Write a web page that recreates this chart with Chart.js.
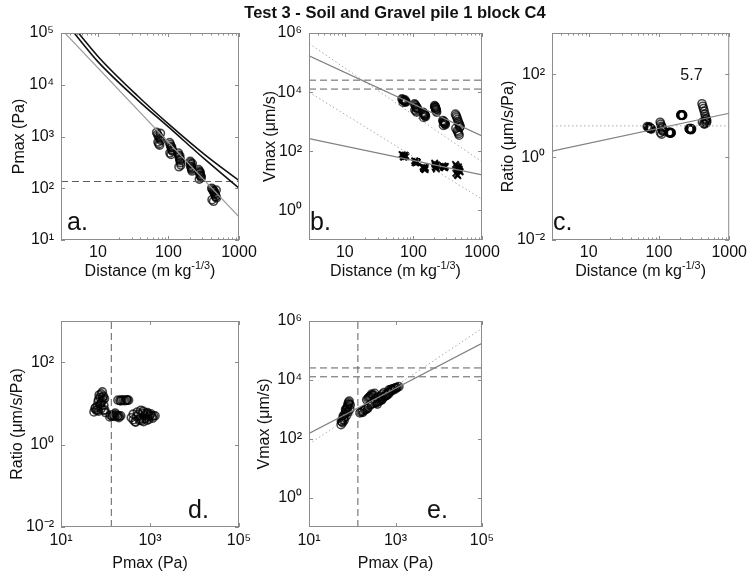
<!DOCTYPE html>
<html>
<head>
<meta charset="utf-8">
<script src="https://cdn.jsdelivr.net/npm/chart.js@4.4.0/dist/chart.umd.min.js"></script>
<style>
  body{margin:0;background:#fff;}
  #wrap{position:relative;width:750px;height:571px;}
  #wrap canvas{position:absolute;left:0;top:0;}
</style>
</head>
<body>
<div id="wrap">
  <canvas id="pa" width="750" height="571"></canvas>
  <canvas id="pb" width="750" height="571"></canvas>
  <canvas id="pc" width="750" height="571"></canvas>
  <canvas id="pd" width="750" height="571"></canvas>
  <canvas id="pe" width="750" height="571"></canvas>
</div>
<script>
// ---- axes / ticks
const distRange = [3, 1000];
const distTicks = [10, 100, 1000];
const pmaxRangeA = [10, 1e5];
const pmaxTicksA = [10, 100, 1000, 1e4, 1e5];
const vmaxRange = [0.1, 1e6];
const vmaxTicks = [1, 100, 1e4, 1e6];
const ratioRange = [0.01, 1000];
const ratioTicks = [0.01, 1, 100];
const pmaxRangeDE = [10, 1e5];
const pmaxTicksDE = [10, 1000, 1e5];

// ---- limits
const pThresh = 135;            // Pa
const vLimits = [25400, 12700]; // um/s
const ratioMean = 5.7;

// ---- scatter data, panels a-c share the scaled distances
const dist = [
  68,70,72,74,76,78,71,73,75,77,
  104,106,108,110,112,114,105,109,111,113,
  138,140,142,144,146,148,150,141,145,147,
  204,206,208,210,212,214,216,218,207,213,
  268,272,276,280,284,288,292,274,282,286,
  410,420,430,440,450,460,470,480,415,435,445,455,465,475
];
const pmaxA = [
  1200,1100,1020,950,900,840,780,720,680,1150,
  760,700,650,600,560,520,480,450,620,540,
  480,440,400,370,340,310,280,260,420,360,
  330,310,290,270,250,230,215,300,260,240,
  230,215,200,190,180,170,160,150,205,175,
  100,95,90,85,80,75,70,65,60,56,88,78,68,92
];
const vmaxB = [
  5900,5600,5300,5000,4800,4600,4500,5200,5500,4900,
  4000,3700,3400,3100,2900,2700,2500,2300,2100,3000,
  2100,2000,1900,1800,1700,1600,1500,1400,1850,1650,
  3500,3300,3100,2900,2700,2500,2300,2100,3000,2600,
  1100,1050,1000,950,900,850,800,750,980,880,
  1800,1600,1400,1200,1000,900,800,700,600,500,450,400,350,650
];
const vmaxLowB = [
  78,75,72,70,68,66,64,63,74,70,
  48,46,45,44,43,42,41,40,45,43,
  30,28,27,26,25,24,28,26,27,25,
  40,37,34,31,29,27,25,35,30,28,
  32,31,30,29,28,30,31,29,30,28,
  36,33,30,28,26,24,22,20,18,16,15,30,25,21
];
const ratioC = [
  5.5,5.3,5.1,5.0,4.9,4.8,5.2,5.4,5.0,4.9,
  7.0,6.3,5.6,5.0,4.6,4.2,3.9,3.6,5.3,4.4,
  4.0,3.9,3.8,3.9,4.0,3.8,3.9,4.0,3.9,3.8,
  10.5,10.2,10.4,10.6,10.3,10.4,10.5,10.2,10.4,10.3,
  4.9,4.8,4.7,4.8,4.9,4.6,4.8,4.7,4.9,4.8,
  19.6,17,15,13,11,9.5,8.5,7.5,7,6.5,6.3,7.2,8,6.8
];
const pmaxD = [
  85,80,90,75,70,88,82,78,95,72,60,65,55,70,80,90,100,75,62,58,68,86,92,66,96,
  190,210,230,250,270,290,310,330,220,300,
  130,145,160,175,190,205,220,150,185,140,165,200,125,
  380,420,460,500,550,600,650,700,750,800,850,900,950,1000,1100,1200,480,620,720,880,
  420,520,580,680,760,820,940,1050,1150,1300
];
const ratioD = [
  19,17,15,14,12.5,12,11,10,13,16,8,7,6.2,6.5,7.5,6.8,6,9,6.8,7.5,11,14,9,8.5,7,
  12,11.8,12.2,12,11.6,12.1,11.9,12,11.5,12.3,
  5.2,5.0,4.8,5.3,5.1,4.9,5.0,5.4,4.8,4.9,5.8,4.5,4.7,
  4.5,4.0,3.6,4.8,5.5,4.2,3.8,6.5,5.0,4.4,3.9,5.5,4.8,5.2,4.9,5.0,3.5,6.8,3.6,6.0,
  5.5,6.2,3.9,5.8,4.2,5.8,4.1,5.6,4.4,5.0
];
const pmaxE = [
  55,58,60,62,65,68,70,72,75,78,80,82,85,65,70,75,80,88,90,60,70,78,85,62,56,
  150,160,170,180,190,200,210,220,230,175,
  215,230,240,250,260,270,290,310,330,280,
  260,280,310,340,370,400,420,440,480,360,
  450,480,520,560,600,620,650,700,760,540,
  700,750,800,850,900,950,1000,1050,1100,1200,
  600,680,820,900,1000,350,400,450,500,380
];
const vmaxE = [
  300,380,450,520,600,700,800,950,1100,1300,1500,1700,1900,420,550,650,800,1000,1400,350,1000,1200,1500,600,400,
  750,800,850,880,950,980,1000,1050,1100,780,
  2100,2300,2500,2600,2700,2900,3000,3100,3500,3300,
  1400,1500,1600,1700,1800,1850,1900,2000,2100,1650,
  2300,2100,2500,2700,2900,3000,3100,3400,4000,3700,
  4500,4600,4800,4900,5000,5200,5300,5500,5600,5900,
  3300,3700,4300,4600,4900,2400,2600,2800,3300,1500
];

// ---- fitted / model lines (end points)
const fitAx = [3, 1000],        fitAy = [1.2e5, 28];
const curveHiX = [5.3, 10.5, 37, 100, 330, 1000], curveHiY = [1e5, 3.3e4, 6000, 1750, 440, 140];
const curveLoX = [4.6, 10, 37, 100, 330, 1000],   curveLoY = [1e5, 2.8e4, 5000, 1530, 360, 100];
const fitBx = [3, 1000];
const fitBhiY = [1.7e5, 330], dotBhiY = [4.4e5, 44];
const fitBloY = [270, 16],    dotBloY = [1.0e4, 2.4];
const fitCx = [3, 1000], fitCy = [1.4, 11.5];
const fitEx = [10, 1e5], fitEy = [150, 1.75e5], dotEy = [66, 5.6e5];

// ---- layout
const W = 750, H = 571, YW = 55, XH = 30;
const FONT = '"Liberation Sans", Arial, Helvetica, sans-serif';
const INK = '#111';
const SUP = {'0':'⁰','1':'¹','2':'²','3':'³','4':'⁴','5':'⁵','6':'⁶','7':'⁷','8':'⁸','9':'⁹','-':'⁻'};
const pow10 = v => '10' + String(Math.round(Math.log10(v))).split('').map(c=>SUP[c]).join('');

const pts = (xs, ys) => xs.map((x,i)=>({x, y: ys[i]}));
const circles = (xs, ys) => ({data: pts(xs,ys), showLine:false, pointStyle:'circle', pointRadius:4,
  pointBorderWidth:1.6, borderColor:'rgba(0,0,0,0.72)', backgroundColor:'rgba(0,0,0,0)'});
const crosses = (xs, ys) => ({data: pts(xs,ys), showLine:false, pointStyle:'crossRot', pointRadius:4.5,
  pointBorderWidth:1.8, borderColor:'rgba(0,0,0,0.9)', backgroundColor:'rgba(0,0,0,0)'});
const line = (xs, ys, color, width, dash, smooth) => ({data: pts(xs,ys), showLine:true, pointRadius:0,
  borderColor:color, borderWidth:width, borderDash:dash||[], fill:false,
  cubicInterpolationMode: smooth ? 'monotone' : 'default'});
const hline = (range, v) => line(range, [v, v], '#5f5f5f', 1, [7,4]);
const vline = (range, v) => line([v, v], range, '#5f5f5f', 1, [7,4]);

function minorTicks(range){
  const out = [];
  for(let d = 1; d < range[1]; d *= 10)
    for(let k = 2; k <= 9; k++){ const v = k*d; if(v > range[0] && v < range[1]) out.push(v); }
  return out;
}

function richText(ctx, parts, cx, cy, size){
  let w = 0;
  parts.forEach(p=>{ ctx.font = (p.sup ? size*0.68 : size) + 'px ' + FONT; p.w = ctx.measureText(p.t).width; w += p.w; });
  let x = cx - w/2;
  ctx.textAlign = 'left'; ctx.textBaseline = 'middle';
  parts.forEach(p=>{
    ctx.font = (p.sup ? size*0.68 : size) + 'px ' + FONT;
    ctx.fillText(p.t, x, p.sup ? cy - size*0.38 : cy);
    x += p.w;
  });
}

const framePlugin = {
  id: 'frame',
  afterDatasetsDraw(chart, args, o){
    const {ctx, chartArea:a, scales:{x, y}} = chart;
    ctx.save();
    ctx.strokeStyle = '#8c8c8c'; ctx.lineWidth = 1;
    ctx.beginPath();
    (o.xMinor || []).forEach(v=>{
      const px = Math.round(x.getPixelForValue(v)) + 0.5;
      ctx.moveTo(px, a.bottom); ctx.lineTo(px, a.bottom - 2.5);
      ctx.moveTo(px, a.top); ctx.lineTo(px, a.top + 2.5);
    });
    x.ticks.forEach(t=>{
      const px = Math.round(x.getPixelForValue(t.value)) + 0.5;
      ctx.moveTo(px, a.bottom); ctx.lineTo(px, a.bottom - 4);
      ctx.moveTo(px, a.top); ctx.lineTo(px, a.top + 4);
    });
    y.ticks.forEach(t=>{
      const py = Math.round(y.getPixelForValue(t.value)) + 0.5;
      ctx.moveTo(a.left, py); ctx.lineTo(a.left + 4, py);
      ctx.moveTo(a.right, py); ctx.lineTo(a.right - 4, py);
    });
    ctx.stroke();
    // white patch behind the panel letter
    ctx.fillStyle = '#fff';
    ctx.fillRect(...o.patch);
    ctx.strokeRect(a.left + 0.5, a.top + 0.5, a.width - 1, a.height - 1);
    // panel letter
    ctx.fillStyle = INK;
    ctx.font = '25px ' + FONT; ctx.textAlign = 'left'; ctx.textBaseline = 'alphabetic';
    ctx.fillText(o.letter[0], o.letter[1], o.letter[2]);
    // axis titles
    ctx.save();
    ctx.translate(o.yTitle[1], (a.top + a.bottom)/2);
    ctx.rotate(-Math.PI/2);
    ctx.font = '16px ' + FONT; ctx.textAlign = 'center'; ctx.textBaseline = 'middle';
    ctx.fillText(o.yTitle[0], 0, 0);
    ctx.restore();
    richText(ctx, o.xTitle, (a.left + a.right)/2, o.xTitleY, 16);
    (o.notes || []).forEach(n=>{
      ctx.font = n.font; ctx.textAlign = 'center'; ctx.textBaseline = 'middle';
      const px = n.data ? x.getPixelForValue(n.x) : n.x;
      const py = n.data ? y.getPixelForValue(n.y) : n.y;
      ctx.fillText(n.t, px, py);
    });
    ctx.restore();
  }
};

function axis(range, ticks, fmt, isX, pad){
  return {
    type:'logarithmic', min:range[0], max:range[1],
    grid:{display:false, drawTicks:false}, border:{display:false},
    afterBuildTicks: s => { s.ticks = ticks.map(v=>({value:v})); },
    afterFit: s => { if(isX) s.height = XH; else s.width = YW; },
    ticks:{callback: fmt, padding: pad, color: INK, autoSkip:false, maxRotation:0,
      font:{family: FONT, size: 16}}
  };
}

function panel(id, box, xAxis, yAxis, datasets, deco){
  return new Chart(document.getElementById(id), {
    type:'scatter',
    data:{datasets},
    options:{
      responsive:false, animation:false, events:[],
      layout:{autoPadding:false, padding:{left: box[0]-YW, top: box[1], right: W-box[2], bottom: H-box[3]-XH}},
      plugins:{legend:{display:false}, tooltip:{enabled:false}, frame: deco},
      scales:{x: xAxis, y: yAxis}
    },
    plugins:[framePlugin]
  });
}

const distFmt = v => String(v);
const distTitle = [{t:'Distance (m kg'}, {t:'-1/3', sup:true}, {t:')'}];
const distMinor = minorTicks(distRange);

// a. Pmax vs distance
panel('pa', [61, 33, 239, 240],
  axis(distRange, distTicks, distFmt, true, 3),
  axis(pmaxRangeA, pmaxTicksA, pow10, false, 7),
  [
    line(curveHiX, curveHiY, '#111', 1.6, null, true),
    line(curveLoX, curveLoY, '#111', 1.6, null, true),
    line(fitAx, fitAy, '#9a9a9a', 1.2),
    hline(distRange, pThresh),
    circles(dist, pmaxA)
  ],
  {letter:['a.', 67, 230], patch:[62, 196, 55, 43], yTitle:['Pmax (Pa)', 20],
   xTitle: distTitle, xTitleY: 272, xMinor: distMinor});

// b. Vmax vs distance
panel('pb', [309, 33, 482, 240],
  axis(distRange, distTicks, distFmt, true, 3),
  axis(vmaxRange, vmaxTicks, pow10, false, 7),
  [
    line(fitBx, fitBhiY, '#808080', 1.2),
    line(fitBx, dotBhiY, '#aaaaaa', 1, [1.5, 2.5]),
    line(fitBx, fitBloY, '#808080', 1.2),
    line(fitBx, dotBloY, '#aaaaaa', 1, [1.5, 2.5]),
    hline(distRange, vLimits[0]),
    hline(distRange, vLimits[1]),
    circles(dist, vmaxB),
    crosses(dist, vmaxLowB)
  ],
  {letter:['b.', 310, 230], patch:[310, 196, 47, 43], yTitle:['Vmax (μm/s)', 271],
   xTitle: distTitle, xTitleY: 272, xMinor: distMinor,
   notes:[{t:'Test 3 - Soil and Gravel pile 1 block C4', x:395, y:13, font:'bold 16.5px ' + FONT}]});

// c. ratio vs distance
panel('pc', [552, 33, 733, 240],
  axis(distRange, distTicks, distFmt, true, 3),
  axis(ratioRange, ratioTicks, pow10, false, 7),
  [
    line(distRange, [ratioMean, ratioMean], '#aaaaaa', 1, [1.5, 2.5]),
    line(fitCx, fitCy, '#808080', 1.2),
    circles(dist, ratioC)
  ],
  {letter:['c.', 553, 230], patch:[553, 196, 40, 43], yTitle:['Ratio (μm/s/Pa)', 509],
   xTitle: distTitle, xTitleY: 272, xMinor: distMinor,
   notes:[{t:String(ratioMean), x:290, y:95, data:true, font:'16px ' + FONT}]});

// d. ratio vs Pmax
panel('pd', [61, 321, 239, 527],
  axis(pmaxRangeDE, pmaxTicksDE, pow10, true, 4),
  axis(ratioRange, ratioTicks, pow10, false, 7),
  [
    vline(ratioRange, pThresh),
    circles(pmaxD, ratioD)
  ],
  {letter:['d.', 188, 518], patch:[186, 487, 42, 39], yTitle:['Ratio (μm/s/Pa)', 18],
   xTitle:[{t:'Pmax (Pa)'}], xTitleY: 564});

// e. Vmax vs Pmax
panel('pe', [309, 321, 482, 527],
  axis(pmaxRangeDE, pmaxTicksDE, pow10, true, 4),
  axis(vmaxRange, vmaxTicks, pow10, false, 7),
  [
    line(fitEx, fitEy, '#808080', 1.2),
    line(fitEx, dotEy, '#aaaaaa', 1, [1.5, 2.5]),
    hline(pmaxRangeDE, vLimits[0]),
    hline(pmaxRangeDE, vLimits[1]),
    vline(vmaxRange, pThresh),
    circles(pmaxE, vmaxE)
  ],
  {letter:['e.', 427, 518], patch:[422, 485, 45, 41], yTitle:['Vmax (μm/s)', 265],
   xTitle:[{t:'Pmax (Pa)'}], xTitleY: 564});
</script>
</body>
</html>
